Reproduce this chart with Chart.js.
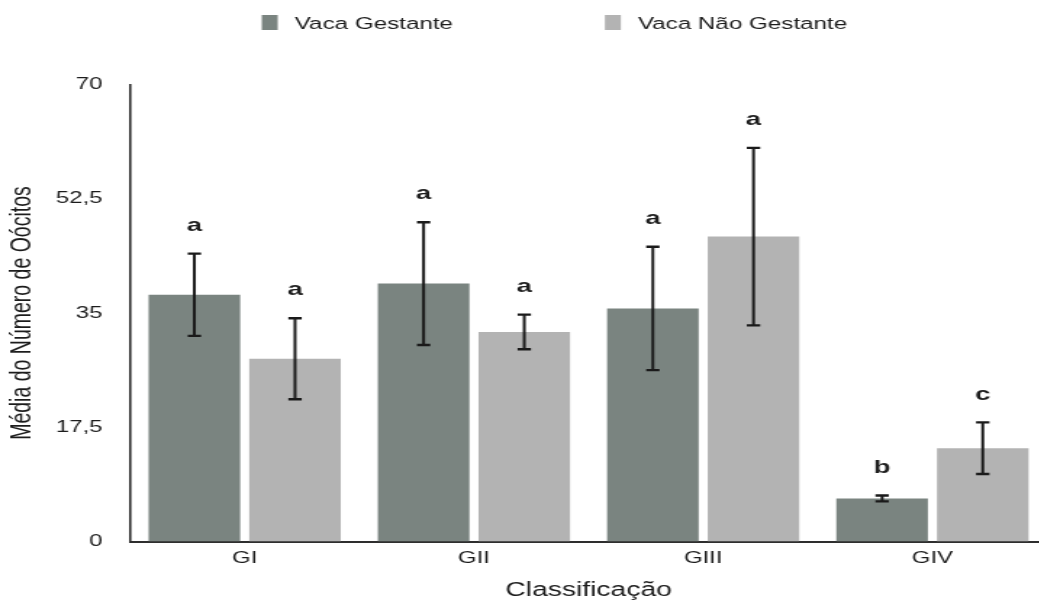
<!DOCTYPE html>
<html lang="pt">
<head>
<meta charset="utf-8">
<title>Média do Número de Oócitos</title>
<script src="https://cdn.jsdelivr.net/npm/chart.js@4.4.1/dist/chart.umd.min.js"></script>
<style>
  html, body { margin: 0; padding: 0; background: #ffffff; overflow: hidden; width: 1039px; height: 604px; }
  #wrap { position: absolute; left: 0; top: 0; width: 730px; height: 604px; transform: scaleX(1.45); transform-origin: 0 0; }
  #c { display: block; }
</style>
</head>
<body>
<div id="wrap"><canvas id="c" width="730" height="604"></canvas></div>
<script>
// Oocyte counts per classification, pregnant vs. non-pregnant cows (mean ± error)
const categories = ['GI', 'GII', 'GIII', 'GIV'];
const gestanteMeans = [37.8, 39.5, 35.7, 6.6];
const gestanteErrors = [6.3, 9.4, 9.45, 0.45];
const gestanteLetters = ['a', 'a', 'a', 'b'];
const naoGestanteMeans = [28.0, 32.1, 46.7, 14.3];
const naoGestanteErrors = [6.2, 2.65, 13.6, 3.95];
const naoGestanteLetters = ['a', 'a', 'a', 'c'];
const yTickValues = [0, 17.5, 35, 52.5, 70];
const yTickLabels = ['0', '17,5', '35', '52,5', '70'];

const FONT = "'Liberation Sans', Arial, Helvetica, sans-serif";
const TEXT = '#1c1c1c';

// Error bars with caps and significance letters above each bar
const errorBarPlugin = {
  id: 'errorBars',
  afterDatasetsDraw(chart) {
    const ctx = chart.ctx;
    const y = chart.scales.y;
    chart.data.datasets.forEach((ds, di) => {
      const meta = chart.getDatasetMeta(di);
      meta.data.forEach((bar, i) => {
        const m = ds.data[i];
        const e = ds.errors[i];
        const yTop = y.getPixelForValue(m + e);
        const yBot = y.getPixelForValue(m - e);
        const x = bar.x;
        ctx.save();
        ctx.strokeStyle = '#1a1a1a';
        ctx.lineWidth = 2;
        ctx.beginPath();
        ctx.moveTo(x, yTop);
        ctx.lineTo(x, yBot);
        ctx.stroke();
        ctx.lineWidth = 2.4;
        ctx.beginPath();
        ctx.moveTo(x - 4.6, yTop);
        ctx.lineTo(x + 4.6, yTop);
        ctx.moveTo(x - 4.6, yBot);
        ctx.lineTo(x + 4.6, yBot);
        ctx.stroke();
        ctx.fillStyle = '#1e1e1e';
        ctx.font = 'bold 19px ' + FONT;
        ctx.textAlign = 'center';
        ctx.textBaseline = 'middle';
        ctx.fillText(ds.letters[i], x, yTop - 28);
        ctx.restore();
      });
    });
  }
};

// Legend row drawn across the top
const topLegendPlugin = {
  id: 'topLegend',
  afterDraw(chart) {
    const ctx = chart.ctx;
    const boxW = 11, boxH = 15, boxGap = 11.7, itemGap = 104.8;
    const centerX = 382.4, centerY = 23;
    ctx.save();
    ctx.font = '16.7px ' + FONT;
    const items = chart.data.datasets.map(ds => ({
      label: ds.label, color: ds.backgroundColor, w: ctx.measureText(ds.label).width
    }));
    const total = items.reduce((s, it) => s + boxW + boxGap + it.w, 0) + itemGap * (items.length - 1);
    let x = centerX - total / 2;
    items.forEach(it => {
      ctx.fillStyle = it.color;
      ctx.fillRect(x, centerY - boxH / 2 - 0.5, boxW, boxH);
      ctx.fillStyle = TEXT;
      ctx.textAlign = 'left';
      ctx.textBaseline = 'middle';
      ctx.fillText(it.label, x + boxW + boxGap, centerY + 1);
      x += boxW + boxGap + it.w + itemGap;
    });
    ctx.restore();
  }
};

new Chart(document.getElementById('c'), {
  type: 'bar',
  data: {
    labels: categories,
    datasets: [
      {
        label: 'Vaca Gestante',
        data: gestanteMeans,
        errors: gestanteErrors,
        letters: gestanteLetters,
        backgroundColor: '#7a8480',
        borderWidth: 0,
        categoryPercentage: 0.878,
        barPercentage: 0.91
      },
      {
        label: 'Vaca Não Gestante',
        data: naoGestanteMeans,
        errors: naoGestanteErrors,
        letters: naoGestanteLetters,
        backgroundColor: '#b3b3b3',
        borderWidth: 0,
        categoryPercentage: 0.878,
        barPercentage: 0.91
      }
    ]
  },
  options: {
    responsive: false,
    maintainAspectRatio: false,
    devicePixelRatio: 1,
    animation: false,
    layout: { padding: { top: 84.5, left: 0, right: 7.9, bottom: 0 } },
    plugins: {
      legend: { display: false },
      tooltip: { enabled: false }
    },
    scales: {
      x: {
        grid: { display: false, drawTicks: false },
        border: { display: true, color: '#2e2e2e', width: 2 },
        ticks: { color: TEXT, font: { family: FONT, size: 16.5 }, padding: 7 },
        title: {
          display: true,
          text: 'Classificação',
          color: TEXT,
          font: { family: FONT, size: 19.5 },
          padding: { top: 0, bottom: 1.3 }
        },
        afterFit(scale) { scale.height = 62.5; }
      },
      y: {
        min: 0,
        max: 70,
        grid: { display: false, drawTicks: false },
        border: { display: true, color: '#2e2e2e', width: 1.6 },
        afterBuildTicks(scale) { scale.ticks = yTickValues.map(v => ({ value: v })); },
        ticks: {
          color: TEXT,
          font: { family: FONT, size: 16.5 },
          padding: 19,
          callback: (value) => yTickLabels[yTickValues.indexOf(value)]
        },
        title: {
          display: true,
          text: 'Média do Número de Oócitos',
          color: TEXT,
          font: { family: FONT, size: 19.5 },
          padding: { top: 4, bottom: 0 }
        },
        afterFit(scale) { scale.width = 89.7; }
      }
    }
  },
  plugins: [errorBarPlugin, topLegendPlugin]
});
</script>
</body>
</html>
